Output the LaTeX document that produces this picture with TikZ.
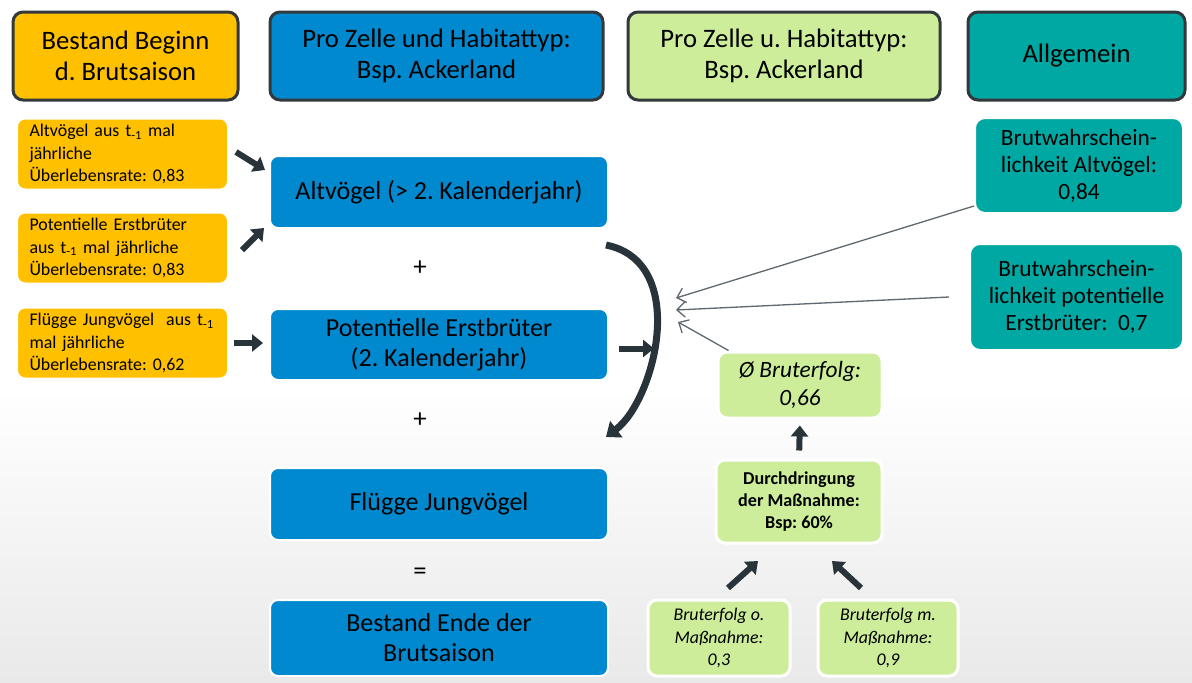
\documentclass[tikz,border=0pt]{standalone}
\usepackage{fontspec}
\setmainfont{Carlito}
\usetikzlibrary{arrows.meta}
\frenchspacing

\newlength{\du}
\setlength{\du}{0.75pt}

\definecolor{headline}{RGB}{50,56,60}
\definecolor{orangefill}{RGB}{255,192,0}
\definecolor{bluefill}{RGB}{0,137,207}
\definecolor{greenfill}{RGB}{205,237,155}
\definecolor{tealfill}{RGB}{0,168,163}
\definecolor{arrowdark}{RGB}{40,52,58}
\definecolor{thingray}{RGB}{95,104,110}
\definecolor{bggray}{RGB}{233,233,233}

\begin{document}
\begin{tikzpicture}[x=\du,y=-\du,
  headbox/.style={draw=headline, line width=3\du, rounded corners=10\du, minimum height=88\du, align=center, inner sep=0pt, font=\fontsize{20}{23.5}\selectfont},
  agebox/.style={fill=orangefill, draw=white, line width=2\du, rounded corners=8\du, minimum width=211\du, minimum height=71\du, text width=186\du, inner xsep=12.5\du, inner ysep=0pt, align=left, font=\fontsize{13.4}{16.7}\selectfont},
  popbox/.style={fill=bluefill, draw=white, line width=2\du, rounded corners=8\du, minimum width=338\du, inner sep=0pt, align=center, font=\fontsize{19.5}{22.5}\selectfont},
  probbox/.style={fill=tealfill, draw=white, line width=2\du, rounded corners=10\du, inner sep=0pt, align=center, font=\fontsize{17.5}{20.3}\selectfont},
  succbox/.style={fill=greenfill, draw=white, line width=3\du, rounded corners=9\du, inner sep=0pt, align=center},
  sign/.style={inner sep=0pt, font=\fontsize{20}{22}\selectfont},
  blockarrow/.style={draw=arrowdark, line width=6\du, -{Triangle[width=12.75pt,length=8.25pt]}},
  thinarrow/.style={draw=thingray, line width=1.3\du, -{Straight Barb[length=6pt,width=11.25pt]}}]
\useasboundingbox (0,0) rectangle (1192,682);
\fill[white] (0,0) rectangle (1192,682);
\shade[top color=white, bottom color=bggray] (0,390) rectangle (1192,682);

% header row
\node[headbox, fill=orangefill, minimum width=225\du] (hbestand) at (125.5,56) {Bestand Beginn\\d. Brutsaison};
\node[headbox, fill=bluefill, minimum width=333\du] (hzelle) at (436.5,56) {Pro Zelle und Habitattyp:\\Bsp. Ackerland};
\node[headbox, fill=greenfill, minimum width=312\du] (hzelleb) at (784,56) {Pro Zelle u. Habitattyp:\\Bsp. Ackerland};
\node[headbox, fill=tealfill, minimum width=217\du] (hallg) at (1076.5,56) {Allgemein};

% survival boxes
\node[agebox] (oalt) at (122.5,154) {Altvögel aus t\textsubscript{-1} mal\\jährliche\\Überlebensrate: 0,83};
\node[agebox] (oerst) at (122.5,248) {Potentielle Erstbrüter\\aus t\textsubscript{-1} mal jährliche\\Überlebensrate: 0,83};
\node[agebox] (ojung) at (122.5,343) {Flügge Jungvögel\ \ aus t\textsubscript{-1}\\mal jährliche\\Überlebensrate: 0,62};

% population column
\node[popbox, minimum height=72\du] (balt) at (439,192) {Altvögel (> 2. Kalenderjahr)};
\node[sign] (plusa) at (420,268) {+};
\node[popbox, minimum height=71\du] (berst) at (439,344.5) {Potentielle Erstbrüter\\(2. Kalenderjahr)};
\node[sign] (plusb) at (420,420) {+};
\node[popbox, minimum height=72\du] (bjung) at (439,504) {Flügge Jungvögel};
\node[sign] (gleich) at (420,574) {=};
\node[popbox, minimum height=76\du] (bende) at (439,638) {Bestand Ende der\\Brutsaison};

% breeding probability
\node[probbox, minimum width=208\du, minimum height=95\du] (talt) at (1079,165.5) {Brutwahrschein-\\lichkeit Altvögel:\\0,84};
\node[probbox, minimum width=213\du, minimum height=106\du] (terst) at (1076.5,297) {Brutwahrschein-\\lichkeit potentielle\\Erstbrüter:\ \ 0,7};

% breeding success
\node[succbox, minimum width=164\du, minimum height=66\du, font=\fontsize{17.5}{21}\selectfont\itshape] (gmittel) at (800,385) {Ø Bruterfolg:\\0,66};
\node[succbox, minimum width=166\du, minimum height=83\du, font=\fontsize{13.6}{16.5}\selectfont\bfseries] (gdurch) at (799,501.5) {Durchdringung\\der Maßnahme:\\Bsp: 60\%};
\node[succbox, minimum width=142\du, minimum height=76\du, font=\fontsize{13.4}{16.8}\selectfont\itshape] (gohne) at (719,638) {Bruterfolg o.\\Maßnahme:\\0,3};
\node[succbox, minimum width=140\du, minimum height=76\du, font=\fontsize{13.4}{16.8}\selectfont\itshape] (gmit) at (888,638) {Bruterfolg m.\\Maßnahme:\\0,9};

% arrow ends
\coordinate (altin) at (265,170);
\coordinate (altout) at (236,152);
\coordinate (erstout) at (242,250);
\coordinate (erstin) at (264,228);
\coordinate (zykstart) at (606,245);
\coordinate (zykend) at (606,437);
\coordinate (zielA) at (676,298);
\coordinate (zielB) at (676,310);
\coordinate (zielC) at (678,322);
\coordinate (ohneout) at (728,588);
\coordinate (ohnein) at (758,561);
\coordinate (mitout) at (861,588);
\coordinate (mitin) at (832,561);

\draw[blockarrow] (altout) -- (altin);
\draw[blockarrow] (erstout) -- (erstin);
\draw[blockarrow, shorten <=5\du, shorten >=6\du] (ojung.east) -- (ojung.east -| berst.west);
\draw[blockarrow] ([xshift=10\du,yshift=-4\du]berst.east) -- ++(35,0);
\draw[draw=arrowdark, line width=7\du, -{Triangle[width=15pt,length=9.75pt]}] (zykstart) .. controls (690,262) and (655,400) .. (zykend);

\draw[thinarrow] ([yshift=8\du]talt.south west) -- (zielA);
\draw[thinarrow] ([xshift=-20\du]terst.west) -- (zielB);
\draw[thinarrow] ([xshift=12\du]gmittel.north west) -- (zielC);

\draw[blockarrow, shorten <=8\du, shorten >=6\du] (gdurch.north) -- (gmittel.south);
\draw[blockarrow] (ohneout) -- (ohnein);
\draw[blockarrow] (mitout) -- (mitin);
\end{tikzpicture}
\end{document}
